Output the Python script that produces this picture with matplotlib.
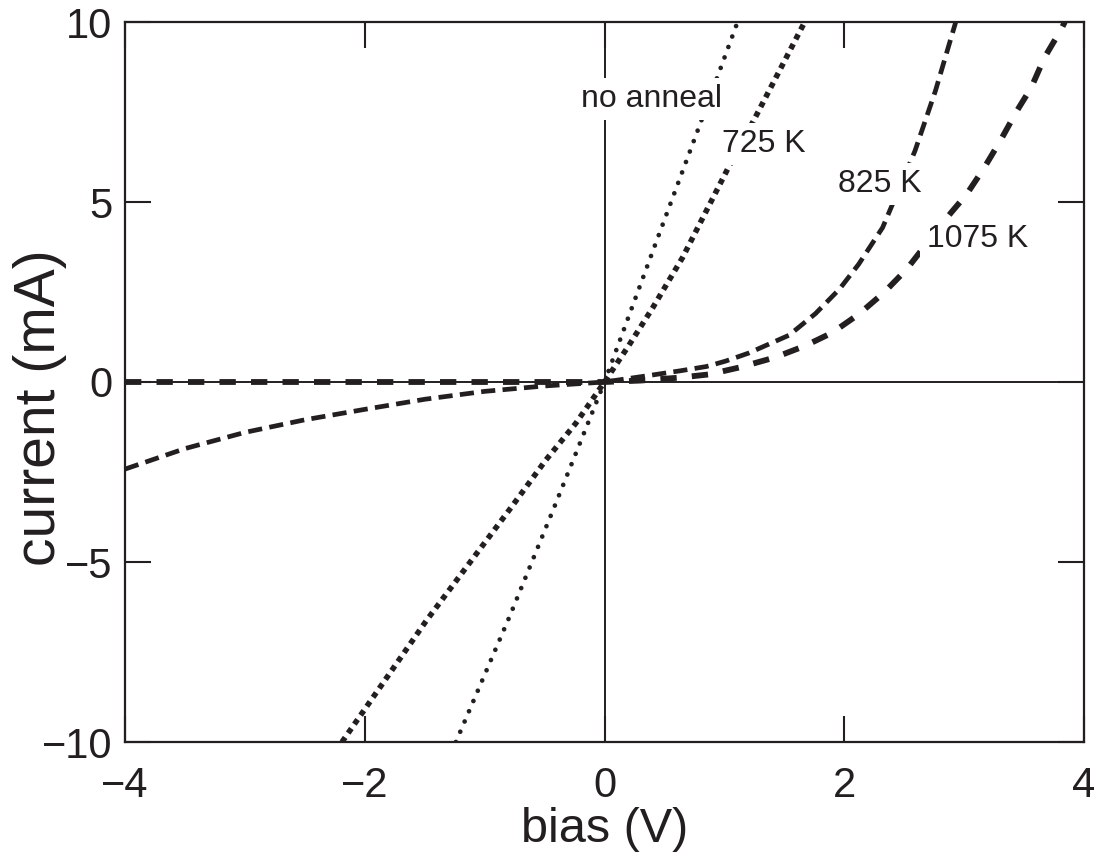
import matplotlib
matplotlib.use("Agg")
import matplotlib.pyplot as plt

plt.rcParams['font.family'] = ['Liberation Sans', 'DejaVu Sans']

INK = '#231f20'

# ---- data (bias in V, current in mA) ----
no_anneal_x = [-1.24, -0.79, -0.41, 0.0, 0.41, 0.79, 1.11]
no_anneal_y = [-10.0, -6.5, -3.4, 0.0, 3.7, 7.1, 10.0]

k725_x = [-2.19, -1.48, -0.78, -0.49, -0.24, 0.0, 0.2, 0.4, 0.65, 1.04, 1.25, 1.67]
k725_y = [-10.0, -6.6, -3.49, -2.17, -1.15, 0.0, 1.0, 2.05, 3.45, 6.0, 7.3, 10.0]

k825_x = [-4.0, -3.5, -3.0, -2.5, -2.0, -1.5, -1.0, -0.5, 0.0, 0.35, 0.63, 0.85,
          1.01, 1.2, 1.54, 1.76, 1.96, 2.12, 2.32, 2.39, 2.59, 2.76, 2.93]
k825_y = [-2.42, -1.85, -1.4, -1.05, -0.76, -0.48, -0.26, -0.11, 0.0, 0.17, 0.31, 0.43,
          0.58, 0.8, 1.3, 1.9, 2.58, 3.27, 4.29, 4.84, 6.42, 8.08, 10.0]

k1075_x = [-4.0, -2.0, -1.0, 0.0, 0.3, 0.62, 0.87, 1.12, 1.42, 1.67, 1.9, 2.12, 2.33,
           2.52, 2.7, 2.89, 3.02, 3.16, 3.30, 3.44, 3.56, 3.67, 3.81, 3.84]
k1075_y = [0.0, 0.0, 0.0, 0.0, 0.04, 0.12, 0.21, 0.4, 0.68, 1.0, 1.37, 1.88, 2.48,
           3.13, 3.9, 4.7, 5.21, 5.91, 6.69, 7.53, 8.18, 9.01, 9.8, 10.0]

labels = ['no anneal', '725 K', '825 K', '1075 K']
label_x = [0.395, 1.33, 2.30, 3.11]
label_y = [7.64, 6.39, 5.28, 3.75]

x_ticks = [-4, -2, 0, 2, 4]
y_ticks = [-10, -5, 0, 5, 10]

# ---- figure ----
fig = plt.figure(figsize=(10.99, 8.56), dpi=100)
ax = fig.add_axes([125 / 1099, 1 - 742 / 856, (1084 - 125) / 1099, (742 - 22) / 856])

ax.axhline(0, color=INK, lw=1.4, zorder=1)
ax.axvline(0, color=INK, lw=1.4, zorder=1)

ax.plot(no_anneal_x, no_anneal_y, color=INK, lw=3.4,
        linestyle=(0, (0.01, 2.35)), dash_capstyle='round', zorder=2)
ax.plot(k725_x, k725_y, color=INK, lw=4.0,
        linestyle=(0, (1.0, 0.96)), dash_capstyle='butt', zorder=2)
ax.plot(k825_x, k825_y, color=INK, lw=3.4,
        linestyle=(0, (3.0, 1.55)), dash_capstyle='butt', zorder=2)
ax.plot(k1075_x, k1075_y, color=INK, lw=4.2,
        linestyle=(0, (2.8, 2.6)), dash_capstyle='butt', zorder=2)

for t, lx, ly in zip(labels, label_x, label_y):
    ax.text(lx, ly, t, ha='center', va='baseline', fontsize=23, color=INK, zorder=5,
            bbox=dict(boxstyle='square,pad=0.2', fc='white', ec='none'))

ax.set_xlim(-4, 4)
ax.set_ylim(-10, 10)
ax.set_xticks(x_ticks)
ax.set_yticks(y_ticks)
ax.tick_params(direction='in', length=18.7, width=1.5, color=INK, labelcolor=INK,
               labelsize=30, top=True, right=True)
ax.tick_params(axis='x', pad=17)
ax.tick_params(axis='y', pad=9)

for s in ax.spines.values():
    s.set_linewidth(1.6)
    s.set_color(INK)
    s.set_zorder(6)

ax.set_xlabel('bias (V)', fontsize=35, color=INK, labelpad=1)
ax.set_ylabel('current (mA)', fontsize=41, color=INK)
ax.yaxis.set_label_coords(-0.061, 0.465)

fig.savefig('out.png', dpi=100)
